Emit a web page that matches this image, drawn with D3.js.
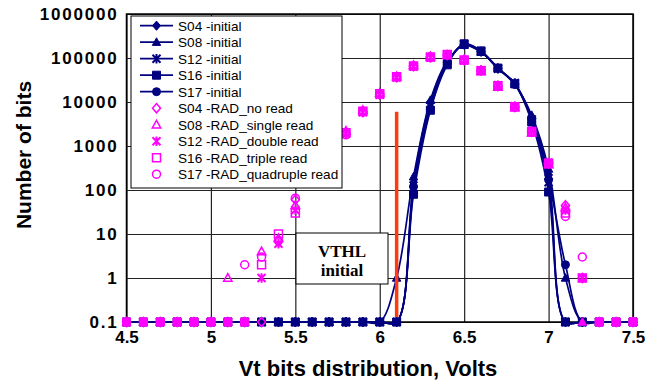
<!DOCTYPE html>
<html lang="en">
<head>
<meta charset="utf-8">
<title>Vt bits distribution</title>
<style>
  body { margin: 0; background: #fff; }
  text { font-family: "Liberation Sans", Arial, sans-serif; }
  .tick text { font-weight: bold; fill: #000; }
  .grid line { stroke: #222; stroke-width: 1.2; }
  .leg text { font-size: 13.6px; }
</style>
</head>
<body>
<script src="https://cdn.jsdelivr.net/npm/d3@7"></script>
<script>
// x positions (Volts)
var volts = [4.5, 4.6, 4.7, 4.8, 4.9, 5.0, 5.1, 5.2, 5.3, 5.4, 5.5, 5.6, 5.7, 5.8, 5.9, 6.0,
             6.1, 6.2, 6.3, 6.4, 6.5, 6.6, 6.7, 6.8, 6.9, 7.0, 7.1, 7.2, 7.3, 7.4, 7.5];

// initial distributions (0.1 = empty bin on log axis)
var s04Initial = [0.1,0.1,0.1,0.1,0.1,0.1,0.1,0.1,0.1,0.1,0.1,0.1,0.1,0.1,0.1,0.1,
                  0.1,150,10000,80000,200000,140000,58000,26000,4500,220,0.1,0.1,0.1,0.1,0.1];
var s08Initial = [0.1,0.1,0.1,0.1,0.1,0.1,0.1,0.1,0.1,0.1,0.1,0.1,0.1,0.1,0.1,0.1,
                  1,200,11000,85000,195000,135000,60000,25000,5000,300,1,0.1,0.1,0.1,0.1];
var s12Initial = [0.1,0.1,0.1,0.1,0.1,0.1,0.1,0.1,0.1,0.1,0.1,0.1,0.1,0.1,0.1,0.1,
                  0.1,100,8000,75000,205000,140000,57000,27000,4000,150,0.1,0.1,0.1,0.1,0.1];
var s16Initial = [0.1,0.1,0.1,0.1,0.1,0.1,0.1,0.1,0.1,0.1,0.1,0.1,0.1,0.1,0.1,0.1,
                  0.1,80,6500,70000,210000,145000,59000,26000,3500,90,0.1,0.1,0.1,0.1,0.1];
var s17Initial = [0.1,0.1,0.1,0.1,0.1,0.1,0.1,0.1,0.1,0.1,0.1,0.1,0.1,0.1,0.1,0.1,
                  0.1,120,7000,80000,200000,138000,58000,25000,4200,170,2,0.1,0.1,0.1,0.1];

// after radiation
var s04Rad = [0.1,0.1,0.1,0.1,0.1,0.1,0.1,0.1,0.1,7,60,200,700,2000,6000,15000,
              37000,66000,105000,117000,90000,52000,23000,7700,2100,400,45,1,0.1,0.1,0.1];
var s08Rad = [0.1,0.1,0.1,0.1,0.1,0.1,1,0.1,4,8,45,220,750,2200,6500,16000,
              38000,68000,108000,115000,92000,50000,22000,7500,2000,380,40,0.1,0.1,0.1,0.1];
var s12Rad = [0.1,0.1,0.1,0.1,0.1,0.1,0.1,0.1,1,6,35,180,650,1900,5800,14500,
              36000,64000,102000,118000,88000,53000,24000,8000,2200,420,35,1,0.1,0.1,0.1];
var s16Rad = [0.1,0.1,0.1,0.1,0.1,0.1,0.1,0.1,2,10,30,190,680,2000,6200,15500,
              37500,66000,106000,120000,90000,51000,23500,7800,2100,400,30,1,0.1,0.1,0.1];
var s17Rad = [0.1,0.1,0.1,0.1,0.1,0.1,0.1,2,3,7,65,210,720,1800,5900,15000,
              36500,65000,104000,116000,89000,52000,22500,7600,2050,410,25,3,0.1,0.1,0.1];

var xTicks = [4.5, 5, 5.5, 6, 6.5, 7, 7.5];
var yTicks = [0.1, 1, 10, 100, 1000, 10000, 100000, 1000000];

// VTHL marker line (x, top, bottom)
var vthl = { x: 6.1, top: 6000, bottom: 0.13 };

var initialSeries = [
  { name: "S04 -initial", values: s04Initial, shape: "diamond" },
  { name: "S08 -initial", values: s08Initial, shape: "triangle" },
  { name: "S12 -initial", values: s12Initial, shape: "star" },
  { name: "S16 -initial", values: s16Initial, shape: "square" },
  { name: "S17 -initial", values: s17Initial, shape: "circle" }
];
var radSeries = [
  { name: "S04 -RAD_no read", values: s04Rad, shape: "diamond" },
  { name: "S08 -RAD_single read", values: s08Rad, shape: "triangle" },
  { name: "S12 -RAD_double read", values: s12Rad, shape: "star" },
  { name: "S16 -RAD_triple read", values: s16Rad, shape: "square" },
  { name: "S17 -RAD_quadruple read", values: s17Rad, shape: "circle" }
];

var navy = "#000080", pink = "#ff00ff";

var w = 647, h = 384;
var plotL = 126.5, plotR = 633, plotT = 14, plotB = 322;

var svg = d3.select("body").append("svg")
  .attr("width", w)
  .attr("height", h);

var xScale = d3.scaleLinear().domain([4.5, 7.5]).range([plotL, plotR]);
var yScale = d3.scaleLog().domain([0.1, 1000000]).range([plotB, plotT]);

// grid + axes
var xAxis = d3.axisBottom(xScale)
  .tickValues(xTicks)
  .tickFormat(d3.format(""))
  .tickSize(-(plotB - plotT))
  .tickPadding(11);

var yAxis = d3.axisLeft(yScale)
  .tickValues(yTicks)
  .tickFormat(function(d) { return d < 1 ? "0.1" : d3.format("d")(d); })
  .tickSize(-(plotR - plotL))
  .tickPadding(8);

var gx = svg.append("g")
  .attr("class", "grid")
  .attr("transform", "translate(0," + plotB + ")")
  .call(xAxis);
gx.selectAll("text").style("font-size", "17px").attr("dy", "0.6em");

var gy = svg.append("g")
  .attr("class", "grid")
  .attr("transform", "translate(" + plotL + ",0)")
  .call(yAxis);
gy.selectAll("text").style("font-size", "17px").style("letter-spacing", "1.8px").attr("dy", "0.35em");

svg.selectAll(".domain").remove();

svg.append("rect")
  .attr("x", plotL).attr("y", plotT)
  .attr("width", plotR - plotL).attr("height", plotB - plotT)
  .attr("fill", "none").attr("stroke", "#000").attr("stroke-width", 1.5);

// marker path builder
function markerPath(shape, s) {
  var r = s / 2;
  if (shape === "diamond") return "M0," + (-r * 1.15) + "L" + r + ",0L0," + (r * 1.15) + "L" + (-r) + ",0Z";
  if (shape === "triangle") return "M0," + (-r * 1.1) + "L" + (r * 1.05) + "," + (r * 0.8) + "L" + (-r * 1.05) + "," + (r * 0.8) + "Z";
  if (shape === "square") return "M" + (-r) + "," + (-r) + "h" + s + "v" + s + "h" + (-s) + "Z";
  if (shape === "circle") return d3.symbol(d3.symbolCircle, Math.PI * r * r)();
  // asterisk: X plus vertical bar
  return "M" + (-r) + "," + (-r) + "L" + r + "," + r +
         "M" + r + "," + (-r) + "L" + (-r) + "," + r +
         "M0," + (-r * 1.2) + "L0," + (r * 1.2);
}

function drawMarker(g, shape, x, y, filled, color, s) {
  var p = g.append("path")
    .attr("transform", "translate(" + x + "," + y + ")")
    .attr("d", markerPath(shape, s));
  if (shape === "star") {
    p.attr("fill", "none").attr("stroke", color).attr("stroke-width", 2);
  } else if (filled) {
    p.attr("fill", color).attr("stroke", color).attr("stroke-width", 1);
  } else {
    p.attr("fill", "none").attr("stroke", color).attr("stroke-width", 1.5);
  }
}

var line = d3.line()
  .x(function(d) { return xScale(d[0]); })
  .y(function(d) { return yScale(d[1]); })
  .curve(d3.curveCatmullRom.alpha(0.5));

// initial curves
initialSeries.forEach(function(s) {
  var pts = volts.map(function(v, i) { return [v, s.values[i]]; });
  svg.append("path")
    .datum(pts)
    .attr("d", line)
    .attr("fill", "none")
    .attr("stroke", navy)
    .attr("stroke-width", 1.7);
});
initialSeries.forEach(function(s) {
  var g = svg.append("g");
  volts.forEach(function(v, i) {
    drawMarker(g, s.shape, xScale(v), yScale(s.values[i]), true, navy, 8);
  });
});

// radiation markers (no lines)
radSeries.forEach(function(s) {
  var g = svg.append("g");
  volts.forEach(function(v, i) {
    var val = s.values[i];
    drawMarker(g, s.shape, xScale(v), yScale(val), val <= 0.1 && s.shape !== "diamond", pink, 8);
  });
});

// VTHL line
svg.append("line")
  .attr("x1", xScale(vthl.x)).attr("x2", xScale(vthl.x))
  .attr("y1", yScale(vthl.top)).attr("y2", yScale(vthl.bottom))
  .attr("stroke", "#ff3a10")
  .attr("stroke-width", 3.5);

// VTHL label box
var lab = svg.append("g");
lab.append("rect")
  .attr("x", 296).attr("y", 233)
  .attr("width", 92).attr("height", 51)
  .attr("fill", "#fff").attr("stroke", "#000").attr("stroke-width", 1);
lab.selectAll("text")
  .data(["VTHL", "initial"])
  .enter().append("text")
  .attr("x", 342)
  .attr("y", function(d, i) { return 257 + i * 19; })
  .attr("text-anchor", "middle")
  .style("font-family", "'Liberation Serif', 'Times New Roman', serif")
  .style("font-weight", "bold")
  .style("font-size", "17px")
  .text(function(d) { return d; });

// legend
var leg = svg.append("g").attr("class", "leg");
leg.append("rect")
  .attr("x", 131).attr("y", 16)
  .attr("width", 211).attr("height", 172)
  .attr("fill", "#fff").attr("stroke", "#000").attr("stroke-width", 1);

var all = initialSeries.concat(radSeries);
all.forEach(function(s, i) {
  var y = 25.7 + i * 16.5;
  var isInit = i < 5;
  if (isInit) {
    leg.append("line")
      .attr("x1", 140).attr("x2", 173)
      .attr("y1", y).attr("y2", y)
      .attr("stroke", navy).attr("stroke-width", 1.7);
  }
  drawMarker(leg, s.shape, 156.5, y, isInit, isInit ? navy : pink, 8);
  leg.append("text")
    .attr("x", 178).attr("y", y)
    .attr("dy", "0.36em")
    .text(s.name);
});

// axis titles
svg.append("text")
  .attr("x", 368).attr("y", 376)
  .attr("text-anchor", "middle")
  .style("font-weight", "bold")
  .style("font-size", "22px")
  .text("Vt bits distribution, Volts");

svg.append("text")
  .attr("transform", "translate(31,155) rotate(-90)")
  .attr("text-anchor", "middle")
  .style("font-weight", "bold")
  .style("font-size", "21px")
  .text("Number of bits");
</script>
</body>
</html>
